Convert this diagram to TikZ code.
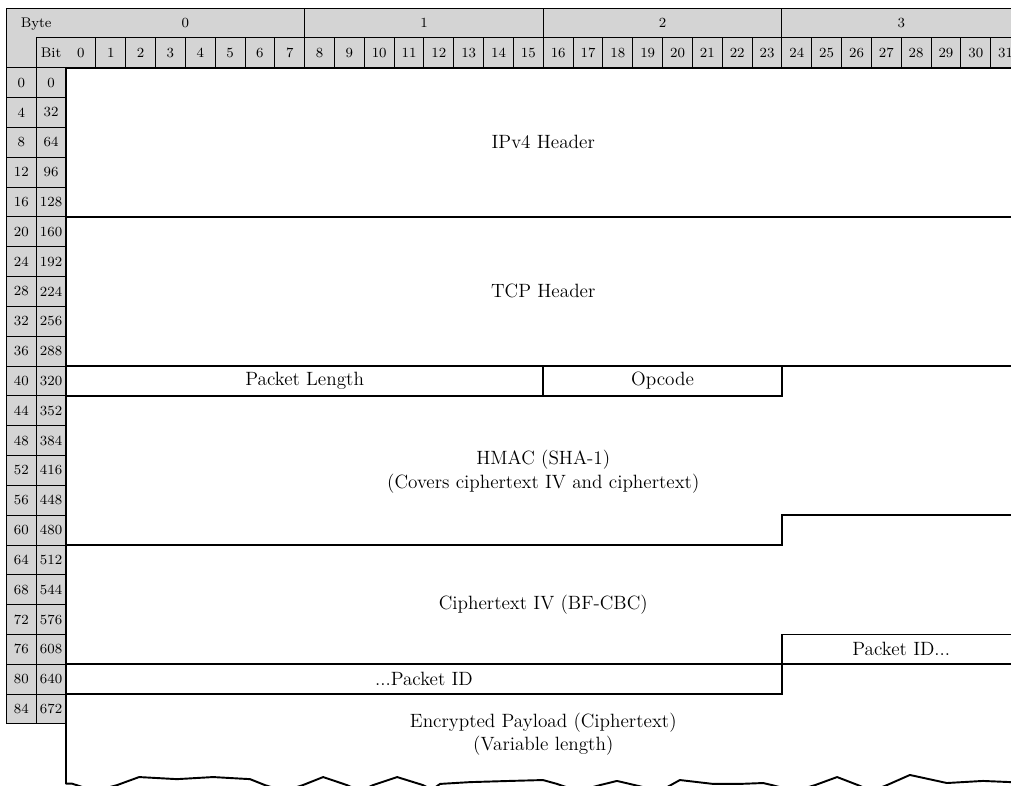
\documentclass[tikz,border=0pt]{standalone}
\usetikzlibrary{calc}

\begin{document}
\begin{tikzpicture}[x=0.6cm,y=-0.6cm,
  grid/.style={line width=0.55pt},
  num/.style={font=\fontsize{8}{9}\selectfont,inner sep=0pt},
  fld/.style={line width=1.1pt},
  lbl/.style={font=\fontsize{11}{13.5}\selectfont,align=center,inner sep=0pt}]
  \useasboundingbox (-2.213,-2.27) rectangle (31.68,24.05);
  \clip (-2.213,-2.27) rectangle (31.68,24.05);
  % header cells
  \fill[black!17] (-2,-2) rectangle (32,0);
  \fill[black!17] (-2,0) rectangle (0,22);
  \draw[grid] (-2,22) -- (-2,-2) -- (32,-2);
  \draw[grid] (-1,-1) -- (32,-1);
  \draw[grid] (-1,-1) -- (-1,22);
  \foreach \k in {1,2,3} \draw[grid] (8*\k,-2) -- (8*\k,-1);
  \foreach \i in {1,...,32} \draw[grid] (\i,-1) -- (\i,0);
  \foreach \r in {0,...,22} \draw[grid] (-2,\r) -- (0,\r);
  \node[num] (byte) at (-1,-1.45) {Byte};
  \node[num] (bit) at (-0.5,-0.5) {Bit};
  \foreach \k in {0,...,3}
    \node[num] (byte\k) at (8*\k+4,-1.5) {\k};
  \foreach \i in {0,...,31}
    \node[num] (bit\i) at (\i+0.5,-0.5) {\i};
  \foreach \r in {0,...,21} {
    \pgfmathtruncatemacro\byteoff{4*\r}
    \pgfmathtruncatemacro\bitoff{32*\r}
    \node[num] (boff\r) at (-1.5,\r+0.5) {\byteoff};
    \node[num] (toff\r) at (-0.5,\r+0.5) {\bitoff};
  }
  % fields
  \draw[fld] (0,0) -- (32,0);
  \draw[fld] (0,5) -- (32,5);
  \draw[fld] (0,10) -- (32,10);
  \draw[fld] (16,10) -- (16,11);
  \draw[fld] (0,11) -- (24,11) -- (24,10);
  \draw[fld] (32,15) -- (24,15) -- (24,16) -- (0,16);
  \draw[fld] (32,19) -- (24,19) -- (24,21) -- (0,21);
  \draw[fld] (0,20) -- (32,20);
  % torn bottom edge
  \draw[fld,line join=round] (0,0) -- (0,24.0) -- (0.2,24.0) -- (0.97,24.25)
    -- (1.71,24.05) -- (2.45,23.78) -- (3.72,23.85) -- (4.93,23.78)
    -- (6.17,23.85) -- (6.67,24.05) -- (7.31,24.25) -- (7.94,24.05)
    -- (8.62,23.78) -- (9.42,24.05) -- (9.86,24.25) -- (10.29,24.05)
    -- (11.10,23.78) -- (11.97,24.05) -- (12.27,24.2) -- (12.54,24.01)
    -- (13.54,23.95) -- (14.88,23.91) -- (15.99,23.88) -- (16.46,24.01)
    -- (17.16,24.25) -- (17.90,24.05) -- (18.47,23.91) -- (19.07,24.05)
    -- (19.91,24.25) -- (20.58,23.88) -- (21.69,24.01) -- (22.59,24.01)
    -- (23.37,23.98) -- (23.67,24.05) -- (24.44,24.25) -- (25.11,24.05)
    -- (25.85,23.78) -- (26.55,24.05) -- (27.02,24.25) -- (27.52,24.05)
    -- (28.29,23.71) -- (29.53,23.98) -- (30.74,23.91) -- (31.68,23.95)
    -- (32.5,23.95);
  % labels
  \node[lbl] (ipv4) at (16,2.5) {IPv4 Header};
  \node[lbl] (tcp) at (16,7.5) {TCP Header};
  \node[lbl] (plen) at (8,10.5) {Packet Length};
  \node[lbl] (opcode) at (20,10.5) {Opcode};
  \node[lbl] (hmac) at (16,13.55) {HMAC (SHA-1)\\(Covers ciphertext IV and ciphertext)};
  \node[lbl] (iv) at (16,18) {Ciphertext IV (BF-CBC)};
  \node[lbl] (pidhi) at (28,19.5) {Packet ID...};
  \node[lbl] (pidlo) at (12,20.5) {...Packet ID};
  \node[lbl] (payload) at (16,22.35) {Encrypted Payload (Ciphertext)\\(Variable length)};
\end{tikzpicture}
\end{document}
